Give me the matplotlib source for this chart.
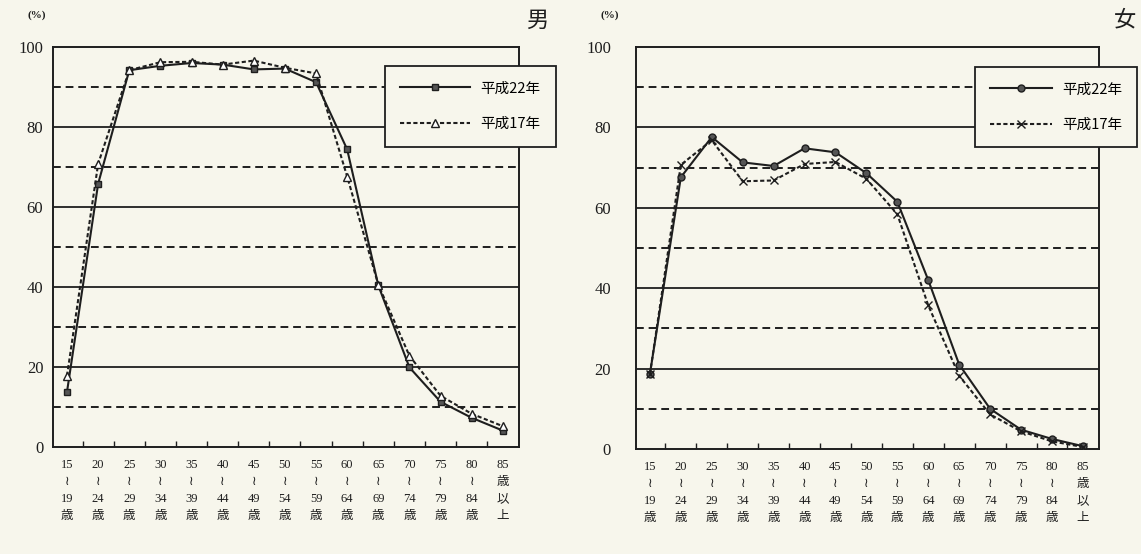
import numpy as np
import matplotlib.pyplot as plt

plt.rcParams['font.family'] = ['Liberation Serif', 'Noto Sans CJK JP', 'DejaVu Sans']

# age classes
ages = ["15\n≀\n19\n歳", "20\n≀\n24\n歳", "25\n≀\n29\n歳", "30\n≀\n34\n歳", "35\n≀\n39\n歳",
        "40\n≀\n44\n歳", "45\n≀\n49\n歳", "50\n≀\n54\n歳", "55\n≀\n59\n歳", "60\n≀\n64\n歳",
        "65\n≀\n69\n歳", "70\n≀\n74\n歳", "75\n≀\n79\n歳", "80\n≀\n84\n歳", "85\n歳\n以\n上"]

# labour force rate (%)
male_h22 = [13.8, 65.8, 94.2, 95.3, 96.0, 95.6, 94.4, 94.6, 91.2, 74.4, 40.4, 19.9, 11.3, 7.3, 4.1]
male_h17 = [17.8, 70.8, 94.2, 96.2, 96.3, 95.6, 96.6, 94.8, 93.4, 67.6, 40.6, 22.8, 12.8, 8.3, 5.2]
female_h22 = [18.7, 67.6, 77.6, 71.3, 70.4, 74.8, 73.8, 68.6, 61.5, 42.0, 21.0, 10.0, 4.8, 2.5, 0.7]
female_h17 = [18.6, 70.7, 76.8, 66.6, 66.8, 70.9, 71.4, 67.2, 58.4, 35.7, 18.2, 8.6, 4.4, 1.9, 0.5]

series_names = ["平成22年", "平成17年"]

bg = '#f7f6ec'
ink = '#1e1e1e'

fig = plt.figure(figsize=(11.41, 5.54), dpi=100, facecolor=bg)
W, H = 1141, 554


def make_axes(left, right, top, bottom):
    return fig.add_axes([left / W, 1 - bottom / H, (right - left) / W, (bottom - top) / H])


def style_axes(ax, ypad):
    ax.set_facecolor(bg)
    x = np.arange(len(ages))
    ax.set_xlim(-0.45, 14.52)
    ax.set_ylim(0, 100)
    for y in [20, 40, 60, 80]:
        ax.axhline(y, color=ink, lw=1.3, zorder=1)
    for y in [10, 30, 50, 70, 90]:
        ax.axhline(y, color=ink, lw=1.4, ls=(0, (4, 2.5)), zorder=1)
    ax.set_xticks(x, ages, fontsize=9, linespacing=1.55)
    ax.tick_params(axis='x', which='major', length=0, pad=9, colors=ink)
    ax.set_xticks(x[:-1] + 0.5, minor=True)
    ax.tick_params(axis='x', which='minor', direction='in', length=4, width=1, color=ink)
    ax.set_yticks([0, 20, 40, 60, 80, 100])
    ax.tick_params(axis='y', length=0, pad=ypad, labelsize=12, colors=ink)
    for s in ax.spines.values():
        s.set_color(ink)
        s.set_linewidth(1.4)


def add_legend(handles, x0, y0, hl):
    leg = fig.legend(handles, series_names, loc='upper left', bbox_to_anchor=(x0 / W, 1 - y0 / H),
                     bbox_transform=fig.transFigure, fancybox=False, framealpha=1, facecolor=bg,
                     edgecolor=ink, prop={'family': ['Noto Sans CJK JP'], 'size': 10.5},
                     handlelength=hl, handletextpad=0.7, labelspacing=1.5, borderpad=1.05,
                     borderaxespad=0)
    leg.get_frame().set_linewidth(1.3)


# 男
ax1 = make_axes(53, 519, 47, 447)
style_axes(ax1, 7)
x = np.arange(len(ages))
l1, = ax1.plot(x, male_h22, color=ink, lw=1.5, marker='s', ms=5, mfc='#555555', mec=ink, zorder=3)
l2, = ax1.plot(x, male_h17, color=ink, lw=1.5, ls=(0, (2, 1.2)), marker='^', ms=6, mfc='white', mec=ink, zorder=3)
add_legend([l1, l2], 385, 66, 4.8)
fig.text(537 / W, 1 - 20 / H, "男", fontsize=16, ha='center', va='center', color=ink,
         family=['Noto Sans CJK JP'])
fig.text(37 / W, 1 - 15 / H, "(%)", fontsize=8, fontweight='bold', ha='center', va='center', color=ink)

# 女
ax2 = make_axes(636, 1099, 47, 449)
style_axes(ax2, 18)
l3, = ax2.plot(x, female_h22, color=ink, lw=1.5, marker='o', ms=5, mfc='#555555', mec=ink, zorder=3)
l4, = ax2.plot(x, female_h17, color=ink, lw=1.5, ls=(0, (2, 1.2)), marker='x', ms=6, mec=ink, zorder=3)
add_legend([l3, l4], 975, 67, 4.2)
fig.text(1125 / W, 1 - 20 / H, "女", fontsize=16, ha='center', va='center', color=ink,
         family=['Noto Sans CJK JP'])
fig.text(610 / W, 1 - 15 / H, "(%)", fontsize=8, fontweight='bold', ha='center', va='center', color=ink)

fig.savefig("out.png", dpi=100, facecolor=bg)
